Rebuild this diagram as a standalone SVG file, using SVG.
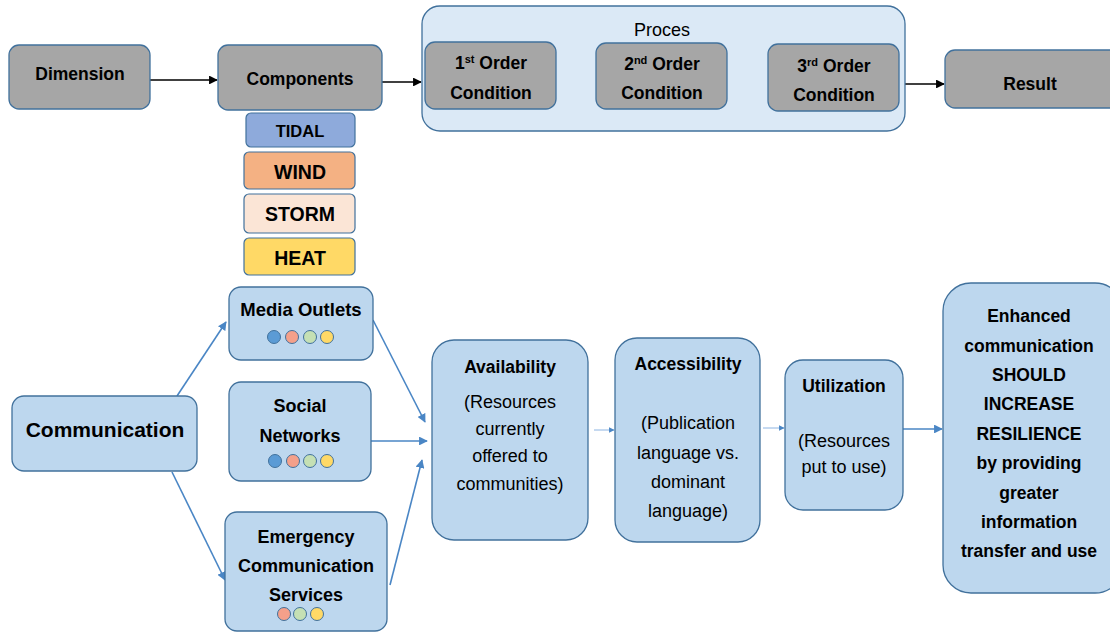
<svg xmlns="http://www.w3.org/2000/svg" width="1110" height="633" viewBox="0 0 1110 633">
  <defs>
    <marker id="ahBlack" viewBox="0 0 10 10" refX="9" refY="5" markerWidth="5.5" markerHeight="5.5" orient="auto">
      <path d="M0,0 L10,5 L0,10 z" fill="#000"/>
    </marker>
    <marker id="ahBlue" viewBox="0 0 10 10" refX="9" refY="5" markerWidth="5.5" markerHeight="5.5" orient="auto">
      <path d="M0,0 L10,5 L0,10 z" fill="#4a86c5"/>
    </marker>
    <style>
      .grey { fill: #a6a6a6; stroke: #41719c; stroke-width: 1.3; }
      .blue { fill: #bdd7ee; stroke: #41719c; stroke-width: 1.3; }
      .tb { font-family: "Liberation Sans", Arial, sans-serif; font-weight: bold; font-size: 17.5px; fill: #000; text-anchor: middle; }
      .tr { font-family: "Liberation Sans", Arial, sans-serif; font-size: 18px; fill: #000; text-anchor: middle; }
      .blk { stroke: #000; stroke-width: 1.6; fill: none; marker-end: url(#ahBlack); }
      .bl { stroke: #4a86c5; stroke-width: 1.6; fill: none; marker-end: url(#ahBlue); }
      .bl-thin { stroke: #8db4e2; stroke-width: 1; fill: none; marker-end: url(#ahBlue); }
      .dot { stroke: #41719c; stroke-width: 1; }
    </style>
  </defs>

  <rect width="1110" height="633" fill="#fff"/>

  <!-- connectors -->
  <g id="connectors">
    <line class="blk" x1="150" y1="80" x2="217" y2="80"/>
    <line class="blk" x1="382" y1="82" x2="421" y2="82"/>
    <line class="blk" x1="556" y1="80" x2="595" y2="80"/>
    <line class="blk" x1="727" y1="81" x2="767" y2="81"/>
    <line class="blk" x1="905" y1="84" x2="944" y2="84"/>

    <line class="bl" x1="177" y1="396" x2="226" y2="322"/>
    <line class="bl" x1="172" y1="472" x2="225" y2="580"/>
    <line class="bl" x1="373" y1="320" x2="425" y2="422"/>
    <line class="bl" x1="371" y1="441" x2="427" y2="441"/>
    <line class="bl" x1="390" y1="585" x2="422" y2="460"/>
    <line class="bl-thin" x1="594" y1="430" x2="614" y2="430"/>
    <line class="bl-thin" x1="763" y1="428" x2="784" y2="428"/>
    <line class="bl" x1="903" y1="429" x2="942" y2="429"/>
  </g>

  <!-- top row -->
  <g id="dimension">
    <rect class="grey" x="9" y="45" width="141" height="64" rx="10"/>
    <text class="tb" x="80" y="80">Dimension</text>
  </g>
  <g id="components">
    <rect class="grey" x="218" y="45" width="164" height="65" rx="10"/>
    <text class="tb" x="300" y="85">Components</text>
  </g>
  <g id="proces">
    <rect x="422" y="6" width="483" height="125" rx="18" fill="#dbe9f6" stroke="#41719c" stroke-width="1.3"/>
    <text class="tr" x="662" y="36">Proces</text>
  </g>
  <g id="order1">
    <rect class="grey" x="425" y="42" width="131" height="67" rx="10"/>
    <text class="tb" x="491" y="69">1<tspan font-size="11" dy="-6">st</tspan><tspan dy="6"> Order</tspan></text>
    <text class="tb" x="491" y="99">Condition</text>
  </g>
  <g id="order2">
    <rect class="grey" x="596" y="43" width="131" height="66" rx="10"/>
    <text class="tb" x="662" y="70">2<tspan font-size="11" dy="-6">nd</tspan><tspan dy="6"> Order</tspan></text>
    <text class="tb" x="662" y="99">Condition</text>
  </g>
  <g id="order3">
    <rect class="grey" x="768" y="44" width="131" height="67" rx="10"/>
    <text class="tb" x="834" y="72">3<tspan font-size="11" dy="-6">rd</tspan><tspan dy="6"> Order</tspan></text>
    <text class="tb" x="834" y="101">Condition</text>
  </g>
  <g id="result">
    <rect class="grey" x="945" y="50" width="175" height="58" rx="10"/>
    <text class="tb" x="1030" y="90">Result</text>
  </g>

  <!-- component hazards -->
  <g id="tidal">
    <rect x="246" y="113" width="109" height="34" rx="5" fill="#8eaadb" stroke="#41719c" stroke-width="1.2"/>
    <text class="tb" x="300" y="137" style="font-size:16.5px">TIDAL</text>
  </g>
  <g id="wind">
    <rect x="244" y="152" width="111" height="37" rx="5" fill="#f4b183" stroke="#41719c" stroke-width="1.2"/>
    <text class="tb" x="300" y="179" style="font-size:19.5px">WIND</text>
  </g>
  <g id="storm">
    <rect x="244" y="194" width="111" height="39" rx="5" fill="#fbe5d6" stroke="#41719c" stroke-width="1.2"/>
    <text class="tb" x="300" y="221" style="font-size:19.5px">STORM</text>
  </g>
  <g id="heat">
    <rect x="244" y="238" width="111" height="37" rx="5" fill="#ffd966" stroke="#41719c" stroke-width="1.2"/>
    <text class="tb" x="300" y="265" style="font-size:19.5px">HEAT</text>
  </g>

  <!-- communication channels -->
  <g id="communication">
    <rect class="blue" x="12" y="396" width="185" height="75" rx="12"/>
    <text class="tb" x="105" y="437" style="font-size:21px">Communication</text>
  </g>
  <g id="media-outlets">
    <rect class="blue" x="229" y="287" width="144" height="73" rx="12"/>
    <text class="tb" x="301" y="316" style="font-size:18.5px">Media Outlets</text>
    <circle class="dot" cx="274" cy="337" r="6.5" fill="#5b9bd5"/>
    <circle class="dot" cx="292" cy="337" r="6.5" fill="#f4a08a"/>
    <circle class="dot" cx="310" cy="337" r="6.5" fill="#c5e0b4"/>
    <circle class="dot" cx="327" cy="337" r="6.5" fill="#ffd966"/>
  </g>
  <g id="social-networks">
    <rect class="blue" x="229" y="382" width="142" height="99" rx="12"/>
    <text class="tb" x="300" y="412" style="font-size:18px">Social</text>
    <text class="tb" x="300" y="442" style="font-size:18px">Networks</text>
    <circle class="dot" cx="275" cy="461" r="6.5" fill="#5b9bd5"/>
    <circle class="dot" cx="293" cy="461" r="6.5" fill="#f4a08a"/>
    <circle class="dot" cx="310" cy="461" r="6.5" fill="#c5e0b4"/>
    <circle class="dot" cx="327" cy="461" r="6.5" fill="#ffd966"/>
  </g>
  <g id="emergency">
    <rect class="blue" x="225" y="512" width="162" height="119" rx="12"/>
    <text class="tb" x="306" y="543" style="font-size:18px">Emergency</text>
    <text class="tb" x="306" y="572" style="font-size:18px">Communication</text>
    <text class="tb" x="306" y="601" style="font-size:18px">Services</text>
    <circle class="dot" cx="284" cy="614" r="6.5" fill="#f4a08a"/>
    <circle class="dot" cx="300" cy="614" r="6.5" fill="#c5e0b4"/>
    <circle class="dot" cx="317" cy="614" r="6.5" fill="#ffd966"/>
  </g>

  <!-- outcome chain -->
  <g id="availability">
    <rect class="blue" x="432" y="340" width="156" height="200" rx="22"/>
    <text class="tb" x="510" y="373">Availability</text>
    <text class="tr" x="510" y="408">(Resources</text>
    <text class="tr" x="510" y="435">currently</text>
    <text class="tr" x="510" y="462">offered to</text>
    <text class="tr" x="510" y="490">communities)</text>
  </g>
  <g id="accessibility">
    <rect class="blue" x="615" y="338" width="145" height="204" rx="22"/>
    <text class="tb" x="688" y="370">Accessibility</text>
    <text class="tr" x="688" y="429">(Publication</text>
    <text class="tr" x="688" y="459">language vs.</text>
    <text class="tr" x="688" y="488">dominant</text>
    <text class="tr" x="688" y="517">language)</text>
  </g>
  <g id="utilization">
    <rect class="blue" x="785" y="360" width="118" height="150" rx="18"/>
    <text class="tb" x="844" y="392">Utilization</text>
    <text class="tr" x="844" y="447">(Resources</text>
    <text class="tr" x="844" y="473">put to use)</text>
  </g>
  <g id="enhanced">
    <rect class="blue" x="943" y="283" width="180" height="310" rx="28"/>
    <text class="tb" x="1029" y="322">Enhanced</text>
    <text class="tb" x="1029" y="352">communication</text>
    <text class="tb" x="1029" y="381">SHOULD</text>
    <text class="tb" x="1029" y="410">INCREASE</text>
    <text class="tb" x="1029" y="440">RESILIENCE</text>
    <text class="tb" x="1029" y="469">by providing</text>
    <text class="tb" x="1029" y="499">greater</text>
    <text class="tb" x="1029" y="528">information</text>
    <text class="tb" x="1029" y="557">transfer and use</text>
  </g>
</svg>
